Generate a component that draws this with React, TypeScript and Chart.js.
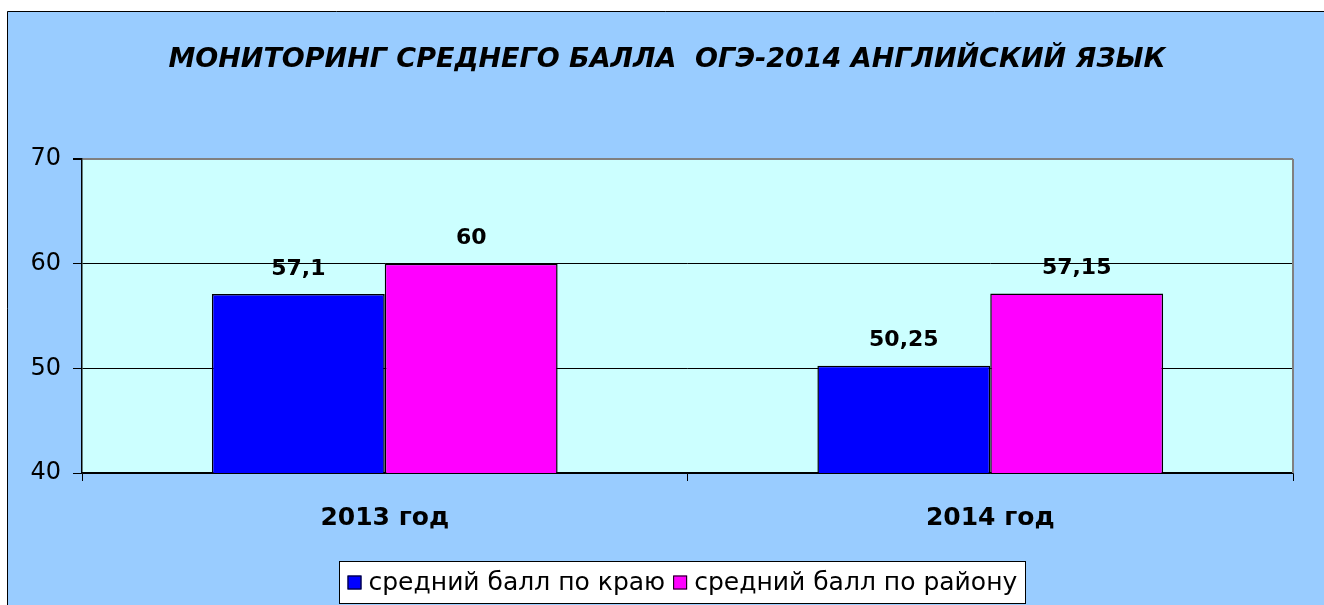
import React, { useEffect, useRef } from "react";
import { Chart, registerables } from "chart.js";

Chart.register(...registerables);

const categories = ["2013 год", "2014 год"];
const seriesNames = ["средний балл по краю", "средний балл по району"];
const regionValues = [57.1, 50.25];
const districtValues = [60, 57.15];
const regionLabels = ["57,1", "50,25"];
const districtLabels = ["60", "57,15"];
const yTicks = [40, 50, 60, 70];
const titleText = "МОНИТОРИНГ СРЕДНЕГО БАЛЛА  ОГЭ-2014 АНГЛИЙСКИЙ ЯЗЫК";

const W = 1324;
const H = 605;
const FONT = '"DejaVu Sans", Verdana, sans-serif';
const colors = ["#0000FF", "#FF00FF"];

const decorPlugin = {
  id: "decor",
  beforeDraw(chart: any) {
    const { ctx, chartArea } = chart;
    ctx.save();
    ctx.fillStyle = "#FFFFFF";
    ctx.fillRect(0, 0, W, H);
    ctx.fillStyle = "#99CCFF";
    ctx.fillRect(7, 11, W - 7, H - 11);
    ctx.strokeStyle = "#000";
    ctx.lineWidth = 1;
    ctx.beginPath();
    ctx.moveTo(7.5, H);
    ctx.lineTo(7.5, 11.5);
    ctx.lineTo(W, 11.5);
    ctx.stroke();
    ctx.fillStyle = "#CCFFFF";
    ctx.fillRect(chartArea.left, chartArea.top, chartArea.right - chartArea.left, chartArea.bottom - chartArea.top);
    ctx.restore();
  },
  afterDraw(chart: any) {
    const { ctx, chartArea } = chart;
    ctx.save();
    // right plot border
    ctx.strokeStyle = "#808080";
    ctx.lineWidth = 2;
    ctx.beginPath();
    ctx.moveTo(chartArea.right, chartArea.top);
    ctx.lineTo(chartArea.right, chartArea.bottom);
    ctx.stroke();

    // data labels
    const labelSets = [regionLabels, districtLabels];
    ctx.fillStyle = "#000";
    ctx.font = `bold 22px ${FONT}`;
    ctx.textAlign = "center";
    ctx.textBaseline = "middle";
    chart.data.datasets.forEach((ds: any, di: number) => {
      const meta = chart.getDatasetMeta(di);
      meta.data.forEach((el: any, i: number) => {
        ctx.fillText(labelSets[di][i], el.x, el.y - 25);
      });
    });

    // title
    ctx.font = `italic bold 27px ${FONT}`;
    ctx.textAlign = "center";
    ctx.textBaseline = "middle";
    ctx.fillText(titleText, 667, 60);

    // legend
    ctx.font = `25px ${FONT}`;
    const sq = 14;
    const gap1 = 7;
    const gap2 = 8;
    const widths = seriesNames.map((s) => ctx.measureText(s).width);
    const inner = widths.reduce((a, w) => a + sq + gap1 + w, 0) + gap2;
    const padX = 8;
    const boxW = Math.round(inner + padX * 2);
    const cx = 682;
    const boxL = Math.round(cx - boxW / 2) + 0.5;
    const boxT = 561.5;
    const boxB = 603.5;
    ctx.fillStyle = "#FFFFFF";
    ctx.fillRect(boxL, boxT, boxW, boxB - boxT);
    ctx.strokeStyle = "#000";
    ctx.lineWidth = 1;
    ctx.strokeRect(boxL, boxT, boxW, boxB - boxT);
    let x = boxL + padX;
    const cy = (boxT + boxB) / 2;
    ctx.textAlign = "left";
    seriesNames.forEach((s, i) => {
      ctx.fillStyle = colors[i];
      ctx.fillRect(x, cy - sq / 2, sq, sq);
      ctx.strokeStyle = "#000";
      ctx.strokeRect(x + 0.5, cy - sq / 2 + 0.5, sq - 1, sq - 1);
      x += sq + gap1;
      ctx.fillStyle = "#000";
      ctx.fillText(s, x, cy + 1);
      x += widths[i] + gap2;
    });
    ctx.restore();
  },
};

export default function App() {
  const ref = useRef<HTMLCanvasElement | null>(null);
  useEffect(() => {
    document.body.style.margin = "0";
    const canvas = ref.current!;
    const chart = new Chart(canvas, {
      type: "bar",
      data: {
        labels: categories,
        datasets: [
          {
            label: seriesNames[0],
            data: regionValues,
            backgroundColor: colors[0],
            borderColor: "#000",
            borderWidth: 1.5,
          },
          {
            label: seriesNames[1],
            data: districtValues,
            backgroundColor: colors[1],
            borderColor: "#000",
            borderWidth: 1.5,
          },
        ],
      },
      options: {
        responsive: false,
        animation: false,
        devicePixelRatio: 1,
        layout: { padding: { left: 0, top: 159, right: 31, bottom: 62 } },
        plugins: {
          legend: { display: false },
          title: { display: false },
          tooltip: { enabled: false },
        },
        datasets: {
          bar: { categoryPercentage: 0.571, barPercentage: 1 },
        },
        scales: {
          x: {
            type: "category",
            offset: true,
            grid: {
              offset: true,
              drawOnChartArea: false,
              tickLength: 8,
              color: "#000",
            },
            border: { color: "#000", width: 1.5 },
            ticks: {
              color: "#000",
              font: { family: FONT, size: 25, weight: "bold" },
              padding: 22,
              maxRotation: 0,
            },
            afterFit: (scale: any) => {
              scale.height = 70;
            },
          },
          y: {
            min: 40,
            max: 70,
            afterBuildTicks: (scale: any) => {
              scale.ticks = yTicks.map((v) => ({ value: v }));
            },
            grid: {
              color: (c: any) => (c.tick && c.tick.value === 70 ? "#808080" : "#000"),
              lineWidth: (c: any) => (c.tick && c.tick.value === 70 ? 2 : 1),
              tickColor: "#000",
              tickLength: 9,
            },
            border: { color: "#000", width: 1.5 },
            ticks: {
              color: "#000",
              font: { family: FONT, size: 24 },
              padding: 12,
            },
            afterFit: (scale: any) => {
              scale.width = 82;
            },
          },
        },
      },
      plugins: [decorPlugin],
    });
    return () => chart.destroy();
  }, []);
  return (
    <div style={{ position: "absolute", left: 0, top: 0, width: W, height: H }}>
      <canvas ref={ref} width={W} height={H} style={{ width: W, height: H, display: "block" }} />
    </div>
  );
}
